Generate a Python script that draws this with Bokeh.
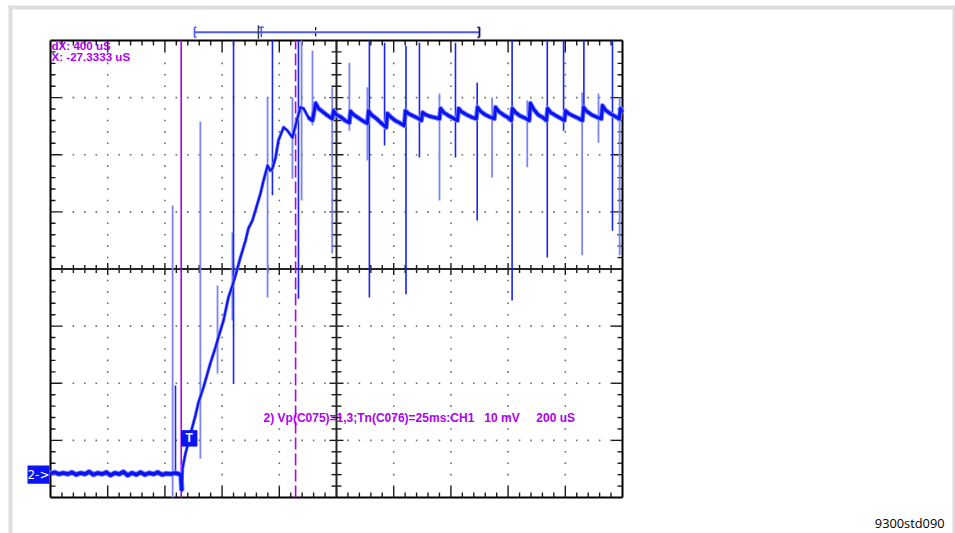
from bokeh.plotting import figure
from bokeh.models import Range1d
from bokeh.core.properties import value
from bokeh.embed import file_html
from bokeh.resources import INLINE

# ---------------- data (time in us, voltage in mV; 200 us/div, 10 mV/div) ----------------
trace_t = [0, 15, 30, 45, 60, 75, 90, 105, 120, 135, 150, 165, 180, 195, 210, 225, 240, 255,
           270, 285, 300, 315, 330, 345, 360, 375, 390, 405, 420, 435, 450, 456,
           459, 462, 472, 490, 507, 517, 535, 559, 577, 594, 605, 622, 636, 647, 664, 682,
           692, 706, 724, 734, 745, 759, 769, 776, 787, 797, 815, 829, 846, 864, 874, 885,
           902, 916,
           927, 937, 950, 965, 985,
           990, 1000, 1015, 1030, 1045,
           1049, 1060, 1075, 1090, 1108,
           1112, 1122, 1138, 1155, 1174,
           1178, 1190, 1205, 1220, 1237,
           1241, 1252, 1268, 1285, 1297,
           1301, 1312, 1328, 1345, 1360,
           1364, 1375, 1390, 1408, 1423,
           1427, 1438, 1455, 1472, 1489,
           1493, 1504, 1520, 1537, 1552,
           1556, 1567, 1583, 1600, 1611,
           1615, 1626, 1642, 1660, 1674,
           1678, 1689, 1705, 1722, 1734,
           1738, 1749, 1765, 1783, 1797,
           1801, 1812, 1828, 1845, 1860,
           1864, 1875, 1892, 1910, 1926,
           1930, 1941, 1957, 1975, 1989,
           1993, 2000]
trace_v = [-35.8, -35.6, -35.9, -35.7, -35.9, -35.6, -36.0, -35.7, -35.9, -35.5, -36.0, -35.7,
           -35.9, -35.6, -36.1, -35.7, -35.9, -35.5, -36.1, -35.7, -36.0, -35.6, -36.0, -35.7,
           -35.9, -35.6, -36.0, -35.8, -35.9, -35.7, -35.9, -36.0,
           -38.8, -34.8, -32.3, -28.8, -25.6, -23.4, -20.7, -16.5, -13.7, -10.8, -9.0, -5.0,
           -2.9, -1.1, 2.0, 5.0, 7.1, 8.5, 11.5, 13.2, 15.5, 18.1, 17.2, 17.6, 19.5, 22.5,
           24.8, 24.2, 23.0, 26.5, 28.3, 28.1, 26.5, 26.0,
           29.0, 28.1, 27.6, 27.0, 26.3,
           27.7, 27.0, 26.6, 26.0, 25.6,
           27.6, 27.0, 26.5, 26.0, 25.5,
           27.7, 27.0, 26.4, 25.6, 24.8,
           27.2, 26.6, 26.0, 25.6, 25.1,
           27.7, 27.2, 26.8, 26.4, 26.0,
           27.4, 27.0, 26.7, 26.5, 26.3,
           28.1, 27.4, 26.9, 26.4, 26.0,
           28.1, 27.5, 27.0, 26.6, 26.3,
           28.3, 27.6, 27.0, 26.6, 26.3,
           28.3, 27.6, 27.0, 26.5, 26.0,
           28.1, 27.4, 26.8, 26.4, 26.0,
           29.0, 28.0, 27.0, 26.5, 26.0,
           28.1, 27.4, 26.9, 26.4, 26.0,
           27.7, 27.2, 26.8, 26.4, 26.0,
           28.3, 27.6, 27.0, 26.6, 26.3,
           28.6, 27.8, 27.2, 26.7, 26.3,
           28.1, 27.5]

spike_t = [427, 437, 524, 584, 636, 640, 759, 776, 846, 867, 878, 916, 985, 1045, 1108, 1115,
           1168, 1243, 1290, 1360, 1416, 1492, 1544, 1614, 1667, 1737, 1794, 1859, 1865, 1916,
           1965, 1990]
spike_top = [11.1, -20.4, 25.8, -2.9, 6.4, 40.0, 30.0, 40.0, 30.0, 40.0, 40.0, 38.2, 31.8, 36.1,
             31.8, 40.0, 39.6, 39.1, 39.6, 30.7, 39.6, 32.6, 30.0, 40.0, 29.5, 40.0, 40.0, 30.9,
             40.0, 30.7, 40.0, 30.0]
spike_bot = [-40.0, -36.1, -33.2, -18.3, -9.0, -20.0, -5.0, 12.9, 15.8, -5.2, 12.0, 25.1, 2.7,
             24.2, 19.0, -5.0, 21.6, -4.4, 19.5, 12.0, 19.5, 8.5, 16.0, -5.5, 17.8, 2.0, 24.2,
             2.4, 27.7, 22.1, 6.7, 2.4]
spike_kind = ["light", "dark", "light", "light", "light", "dark", "light", "dark", "light", "dark",
              "light", "light", "light", "light", "light", "dark", "dark", "dark", "dark", "light",
              "dark", "dark", "light", "dark", "light", "dark", "dark", "light", "dark", "light",
              "dark", "light"]

cursor_solid_t = 457
cursor_dash_t = 857
trigger_t = 727
ground_mv = -36.0
time_per_div = 200
mv_per_div = 10
n_xdiv = 10
n_ydiv = 8

readout_lines = ["dX: 400 uS", "X: -27.3333 uS"]
channel_label = ("2) Vp(C075)=1,3;Tn(C076)=25ms:CH1\u00a0\u00a0\u00a010 mV"
                 "\u00a0\u00a0\u00a0\u00a0\u00a0200 uS")
figure_id = "9300std090"

# ---------------- figure ----------------
W, H = 955, 533
us_px = 3.4965   # us per screen pixel
mv_px = 0.17505  # mV per screen pixel
X0 = -50 * us_px
X1 = X0 + W * us_px
Y1 = 268.5 * mv_px
Y0 = Y1 - H * mv_px

p = figure(width=W, height=H, x_range=Range1d(X0, X1), y_range=Range1d(Y0, Y1),
           output_backend="svg", toolbar_location=None,
           x_axis_location=None, y_axis_location=None, min_border=0)
p.outline_line_color = None
p.xgrid.visible = False
p.ygrid.visible = False
p.background_fill_color = "white"
p.border_fill_color = "white"

MAG = "#b000f0"
BLUE = "#0a14f5"
DARK = "#1424fa"
LIGHT = "#7b84fa"
GRAY = "#dedede"

# page gray border
p.quad(left=[X0 + 8 * us_px, X0 + 8 * us_px, X0 + 952 * us_px],
       right=[X0 + 12 * us_px, X1, X1],
       bottom=[Y0, Y1 - 9 * mv_px, Y0],
       top=[Y1 - 5 * mv_px, Y1 - 5 * mv_px, Y1 - 5 * mv_px],
       fill_color=GRAY, line_color=None)

tmax = time_per_div * n_xdiv
vmax = mv_per_div * n_ydiv / 2
tstep = time_per_div / 5
vstep = mv_per_div / 5
tc = tmax / 2

# graticule dots
dx, dy = [], []
for j in range(1, n_ydiv):
    v = -vmax + j * mv_per_div
    if abs(v) < 1e-9:
        continue
    for k in range(1, n_xdiv * 5):
        t = k * tstep
        if abs(t - tc) < 1e-9:
            continue
        dx.append(t); dy.append(v)
for i in range(1, n_xdiv):
    t = i * time_per_div
    if abs(t - tc) < 1e-9:
        continue
    for j in range(1, n_ydiv * 5):
        v = -vmax + j * vstep
        if abs(v) < 1e-9 or j % 5 == 0:
            continue
        dx.append(t); dy.append(v)
p.scatter(dx, dy, marker="square", size=1.6, color="#6a6a6a", line_color=None)

# ticks
sx0, sy0, sx1, sy1 = [], [], [], []
def seg(a, b, c, d):
    sx0.append(a); sy0.append(b); sx1.append(c); sy1.append(d)

for k in range(1, n_xdiv * 5):
    t = k * tstep
    L = 11 if k % 5 == 0 else 5
    seg(t, vmax, t, vmax - L * mv_px)
    seg(t, -vmax, t, -vmax + L * mv_px)
    if abs(t - tc) > 1e-9:
        h = 6 if k % 5 == 0 else 4
        seg(t, -h * mv_px, t, h * mv_px)
for j in range(1, n_ydiv * 5):
    v = -vmax + j * vstep
    L = 11 if j % 5 == 0 else 5
    seg(0, v, L * us_px, v)
    seg(tmax, v, tmax - L * us_px, v)
    if abs(v) > 1e-9:
        h = 7 if j % 5 == 0 else 5
        seg(tc - h * us_px, v, tc + h * us_px, v)
p.segment(sx0, sy0, sx1, sy1, line_color="#1a1a1a", line_width=1.4)

# center cross and frame
p.segment([0, tc], [0, -vmax], [tmax, tc], [0, vmax], line_color="#262626", line_width=2)
p.segment([0, 0, 0, tmax], [-vmax, vmax, -vmax, -vmax], [tmax, tmax, 0, tmax], [-vmax, vmax, vmax, vmax],
          line_color="black", line_width=2)

# cursors
p.segment([cursor_solid_t], [-vmax], [cursor_solid_t], [vmax], line_color=MAG, line_width=1.6)
p.segment([cursor_dash_t], [-vmax], [cursor_dash_t], [vmax], line_color=MAG, line_width=1.6,
          line_dash="12 4")

# spikes
lt = [i for i, k in enumerate(spike_kind) if k == "light"]
dk = [i for i, k in enumerate(spike_kind) if k == "dark"]
p.segment([spike_t[i] for i in lt], [spike_bot[i] for i in lt], [spike_t[i] for i in lt],
          [spike_top[i] for i in lt], line_color=LIGHT, line_width=1.8)
p.segment([spike_t[i] for i in dk], [spike_bot[i] for i in dk], [spike_t[i] for i in dk],
          [spike_top[i] for i in dk], line_color=DARK, line_width=1.6)

# trace: halo (thicker where the signal is noisy), then core line
p.line(trace_t[:33], trace_v[:33], line_color=LIGHT, line_width=5.5, line_join="round")
p.line(trace_t[64:], trace_v[64:], line_color=LIGHT, line_width=5.0, line_join="round")
p.line(trace_t, trace_v, line_color=LIGHT, line_width=3.4, line_join="round")
p.line(trace_t[:33], trace_v[:33], line_color=BLUE, line_width=3.6, line_join="round")
p.line(trace_t[64:], trace_v[64:], line_color=BLUE, line_width=3.0, line_join="round")
p.line(trace_t, trace_v, line_color=BLUE, line_width=2.0, line_join="round")

# top position bar
bar_v = vmax + 8.2 * mv_px
bar_l = 503.5
bar_r = 1500
hb = 5 * mv_px
p.segment([bar_l], [bar_v], [bar_r], [bar_v], line_color="#4c5cf2", line_width=2)
p.segment([bar_l, bar_l, bar_l], [bar_v - hb, bar_v - hb, bar_v + hb],
          [bar_l, bar_l + 2 * us_px, bar_l + 2 * us_px], [bar_v + hb, bar_v - hb, bar_v + hb],
          line_color="#4c5cf2", line_width=1.6)
p.segment([bar_r, bar_r, bar_r], [bar_v - hb, bar_v - hb, bar_v + hb],
          [bar_r, bar_r - 2 * us_px, bar_r - 2 * us_px], [bar_v + hb, bar_v - hb, bar_v + hb],
          line_color="#10106a", line_width=1.8)
p.segment([trigger_t], [bar_v - 6.5 * mv_px], [trigger_t], [bar_v + 7 * mv_px],
          line_color="#333333", line_width=1.4)
tt = trigger_t + 10
p.segment([tt, tt - 2.5 * us_px], [bar_v - hb, bar_v + hb], [tt, tt + 2.5 * us_px], [bar_v + hb, bar_v + hb],
          line_color="#4c5cf2", line_width=1.6)
p.segment([tc - 73], [bar_v - 4 * mv_px], [tc - 73], [bar_v + 8 * mv_px], line_color="black",
          line_width=1.3, line_dash="3 3")

# trigger box marker
p.quad(left=[458], right=[512], bottom=[-31.0], top=[-28.3], fill_color=BLUE, line_color=BLUE)
p.text(x=[485], y=[-29.65], text=["T"], text_color="white", text_font=value("Liberation Sans"),
       text_font_style="bold", text_font_size="12px", text_align="center", text_baseline="middle")

# channel ground marker
p.quad(left=[X0 + 27 * us_px], right=[-3.5], bottom=[ground_mv - 1.6], top=[ground_mv + 1.6],
       fill_color="#0a14f0", line_color=None)
p.text(x=[-42], y=[ground_mv], text=["2->"], text_color="white", text_font=value("DejaVu Sans"),
       text_font_size="12px", text_align="center", text_baseline="middle")

# readouts
p.text(x=[3.5, 3.5], y=[vmax + 0.3, vmax - 1.65], text=readout_lines, text_color=MAG,
       text_font=value("Liberation Sans"), text_font_style="bold", text_font_size="11.6px",
       text_align="left", text_baseline="top")
p.text(x=[745], y=[-26.0], text=[channel_label], text_color=MAG,
       text_font=value("Liberation Sans"), text_font_style="bold", text_font_size="12px",
       text_align="left", text_baseline="middle")
p.text(x=[3126], y=[-44.4], text=[figure_id], text_color="black",
       text_font=value("Open Sans"), text_font_size="12.8px", text_align="right",
       text_baseline="middle")

open("out.html", "w").write(file_html(p, INLINE))
